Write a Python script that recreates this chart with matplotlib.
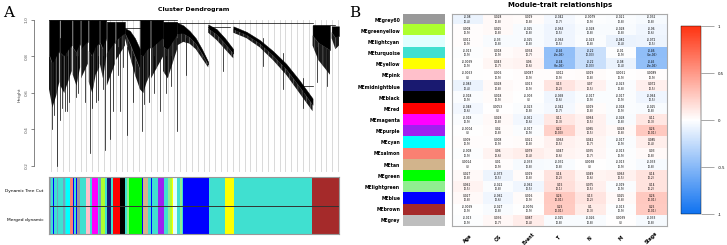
import numpy as np
import matplotlib.pyplot as plt
from matplotlib.colors import LinearSegmentedColormap, to_rgb

W, H = 727, 245
plt.rcParams['hatch.linewidth'] = 0.35

# ---- panel B data: module eigengene vs trait correlations ----
modules = ['grey60', 'greenyellow', 'lightcyan', 'turquoise', 'yellow', 'pink',
           'midnightblue', 'black', 'red', 'magenta', 'purple', 'cyan', 'salmon',
           'tan', 'green', 'lightgreen', 'blue', 'brown', 'grey']
module_hex = {'grey60': '#999999', 'greenyellow': '#ADFF2F', 'lightcyan': '#E0FFFF',
              'turquoise': '#40E0D0', 'yellow': '#FFFF00', 'pink': '#FFC0CB',
              'midnightblue': '#191970', 'black': '#000000', 'red': '#FF0000',
              'magenta': '#FF00FF', 'purple': '#A020F0', 'cyan': '#00FFFF',
              'salmon': '#FA8072', 'tan': '#D2B48C', 'green': '#00FF00',
              'lightgreen': '#90EE90', 'blue': '#0000FF', 'brown': '#A52A2A',
              'grey': '#BEBEBE', 'grey_l': '#6FA8C0'}
traits = ['Age', 'OS', 'Event', 'T', 'N', 'M', 'Stage']
cor = np.array([
    [-0.08, 0.028, 0.019, -0.042, -0.0079, -0.021, -0.032],
    [0.008, 0.025, -0.025, -0.063, -0.028, -0.028, -0.06],
    [0.011, -0.03, -0.025, -0.063, -0.023, -0.081, -0.072],
    [-0.013, 0.018, 0.034, -0.45, -0.22, -0.01, -0.46],
    [-0.0069, 0.043, 0.06, -0.44, -0.22, -0.08, -0.45],
    [-0.0063, 0.006, 0.0087, 0.012, 0.019, 0.0061, 0.0089],
    [-0.083, 0.028, 0.013, 0.13, 0.07, -0.023, 0.072],
    [-0.018, 0.018, -0.003, -0.058, -0.017, -0.017, -0.064],
    [-0.048, 0.0053, -0.023, -0.042, 0.019, -0.018, -0.025],
    [-0.018, 0.028, -0.051, 0.11, 0.064, -0.028, 0.11],
    [-0.0004, 0.02, -0.017, 0.22, 0.065, 0.028, 0.26],
    [0.009, 0.008, 0.021, 0.063, 0.042, -0.017, 0.085],
    [-0.008, 0.06, 0.079, 0.047, 0.035, -0.013, 0.03],
    [0.0014, 0.01, -0.033, -0.031, 0.0038, -0.013, -0.033],
    [0.027, -0.073, 0.019, 0.14, 0.049, 0.063, 0.14],
    [0.062, -0.022, -0.062, 0.15, 0.075, -0.019, 0.14],
    [0.027, -0.061, 0.016, 0.26, 0.13, 0.025, 0.26],
    [-0.0069, -0.027, -0.0076, 0.25, 0.1, -0.013, 0.25],
    [-0.013, 0.036, 0.087, -0.025, -0.026, 0.0039, -0.033],
])
pval = [
    ['0.4', '0.8', '0.8', '0.7', '0.9', '0.8', '0.8'],
    ['0.9', '0.8', '0.8', '0.5', '0.8', '0.8', '0.6'],
    ['0.9', '0.8', '0.8', '0.5', '0.8', '0.4', '0.5'],
    ['0.9', '0.9', '0.7', '2e-05', '0.03', '0.9', '1e-05'],
    ['0.9', '0.7', '0.6', '3e-05', '0.03', '0.4', '2e-05'],
    ['1', '0.9', '0.9', '0.9', '0.8', '0.9', '0.9'],
    ['0.4', '0.8', '0.9', '0.2', '0.5', '0.8', '0.5'],
    ['0.9', '0.9', '1', '0.6', '0.9', '0.9', '0.5'],
    ['0.6', '1', '0.8', '0.7', '0.8', '0.9', '0.8'],
    ['0.9', '0.8', '0.6', '0.3', '0.5', '0.8', '0.3'],
    ['1', '0.8', '0.9', '0.03', '0.5', '0.8', '0.01'],
    ['0.9', '0.9', '0.8', '0.5', '0.7', '0.9', '0.4'],
    ['0.9', '0.6', '0.4', '0.6', '0.7', '0.9', '0.8'],
    ['1', '0.9', '0.8', '0.8', '1', '0.9', '0.8'],
    ['0.8', '0.5', '0.8', '0.2', '0.6', '0.5', '0.2'],
    ['0.5', '0.8', '0.5', '0.1', '0.5', '0.9', '0.2'],
    ['0.8', '0.6', '0.9', '0.01', '0.2', '0.8', '0.01'],
    ['0.9', '0.8', '0.9', '0.01', '0.3', '0.9', '0.01'],
    ['0.9', '0.7', '0.4', '0.8', '0.8', '1', '0.8'],
]

# ---- panel A data: dendrogram (gene order units 0..867) ----
clu_x0 = [0, 34, 71, 96, 119, 152, 173, 200, 227, 272, 305, 341, 383, 476, 551, 788, 845]
clu_x1 = [31, 68, 93, 116, 150, 171, 197, 227, 272, 302, 341, 383, 476, 551, 788, 840, 867]
clu_upper = [[1.0] * 4, [1.0] * 4, [1.0] * 3, [1.0] * 3, [1.0] * 4, [1.0] * 3,
             [0.99] * 3, [0.99] * 3,
             [0.955, 0.94, 0.9, 0.84], [1.0] * 4, [1.0] * 4, [0.99] * 4,
             [0.985, 0.97, 0.94, 0.9, 0.84, 0.77],
             [0.975, 0.95, 0.9, 0.84],
             [0.965, 0.935, 0.89, 0.83, 0.76, 0.67, 0.57],
             [0.97] * 4, [0.965] * 3]
clu_lower = [[0.62, 0.52, 0.58, 0.66],
             [0.64, 0.6, 0.66, 0.72],
             [0.7, 0.64, 0.74],
             [0.68, 0.72, 0.76],
             [0.66, 0.6, 0.7, 0.74],
             [0.76, 0.68, 0.8],
             [0.64, 0.7, 0.76],
             [0.78, 0.82, 0.86],
             [0.9, 0.8, 0.7, 0.62],
             [0.62, 0.6, 0.66, 0.7],
             [0.68, 0.72, 0.76, 0.8],
             [0.72, 0.68, 0.76, 0.84],
             [0.86, 0.88, 0.87, 0.84, 0.79, 0.74],
             [0.93, 0.89, 0.84, 0.79],
             [0.93, 0.9, 0.85, 0.78, 0.7, 0.6, 0.5],
             [0.86, 0.78, 0.74, 0.7],
             [0.9, 0.84, 0.86]]
spike_x = [8, 23, 32, 47, 60, 107, 122, 140, 167, 182, 190, 212, 233, 250,
           278, 300, 332, 383, 410, 520, 640, 700, 760, 800, 830,
           15, 40, 55, 80, 88, 130, 145, 160, 205, 220, 285, 315, 350, 365]
spike_top = [0.9, 0.9, 0.9, 0.9, 0.9, 0.9, 0.9, 0.9, 0.9, 0.9, 0.9, 0.9, 0.85, 0.8,
             0.9, 0.9, 0.9, 0.9, 0.9, 0.85, 0.9, 0.82, 0.68, 0.85, 0.84,
             0.8, 0.8, 0.8, 0.8, 0.8, 0.8, 0.8, 0.8, 0.85, 0.85, 0.8, 0.8, 0.8, 0.8]
spike_bot = [0.4, 0.2, 0.45, 0.5, 0.55, 0.55, 0.27, 0.55, 0.29, 0.35, 0.5, 0.5,
             0.37, 0.55, 0.39, 0.55, 0.5, 0.39, 0.7, 0.72, 0.75, 0.62, 0.52, 0.66, 0.64,
             0.48, 0.52, 0.5, 0.58, 0.6, 0.52, 0.56, 0.62, 0.7, 0.74, 0.54, 0.6, 0.6, 0.64]
merge_x0 = [0, 383, 788, 227, 476, 760]
merge_x1 = [383, 788, 856, 272, 540, 788]
merge_h = [1.0, 0.983, 0.97, 0.955, 0.96, 0.64]

# module colour strip (gene order units)
strip_edges = [0, 4, 7, 12, 15, 24, 27, 42, 47, 52, 62, 72, 76, 80, 84, 92, 110, 124,
               129, 145, 150, 155, 167, 172, 185, 192, 212, 227, 232, 239, 277, 282,
               297, 304, 309, 327, 344, 357, 362, 367, 372, 382, 392, 397, 402, 477,
               527, 552, 787, 867]
strip_cols = ['turquoise', 'grey_l', 'turquoise', 'blue', 'turquoise', 'grey_l',
              'turquoise', 'grey_l', 'turquoise', 'cyan', 'salmon', 'blue', 'turquoise',
              'blue', 'grey60', 'turquoise', 'pink', 'turquoise', 'magenta',
              'turquoise', 'grey_l', 'greenyellow', 'turquoise', 'midnightblue',
              'turquoise', 'red', 'black', 'turquoise', 'lightgreen', 'green', 'blue',
              'tan', 'turquoise', 'blue', 'turquoise', 'purple', 'turquoise',
              'lightgreen', 'greenyellow', 'yellow', 'lightcyan', 'turquoise',
              'lightgreen', 'turquoise', 'blue', 'turquoise', 'yellow', 'turquoise',
              'brown']


def rect(x0, y0, x1, y1):
    return [x0 / W, 1 - y1 / H, (x1 - x0) / W, (y1 - y0) / H]


fig = plt.figure(figsize=(7.27, 2.45), dpi=100)

# ---------------- Panel A ----------------
axd = fig.add_axes(rect(49, 17, 339, 172))
for i in range(50):
    axd.plot([7 + 17.5 * i] * 2, [0.1, 1.0], color='#cfcfcf', lw=0.55, zorder=0)
for x0, x1, up, lo in zip(clu_x0, clu_x1, clu_upper, clu_lower):
    xs = np.linspace(x0, x1, len(lo))
    mid = [(u + l) / 2 for u, l in zip(up, lo)]
    axd.fill_between(xs, mid, up, color='black', lw=0.3, zorder=2)
    axd.fill_between(xs, lo, mid, facecolor='#1a1a1a', edgecolor='#8a8a8a',
                     hatch='||||', lw=0, zorder=2)
for x, t, b in zip(spike_x, spike_top, spike_bot):
    axd.plot([x, x], [b, t], color='black', lw=0.5, zorder=2)
for x0, x1, h in zip(merge_x0, merge_x1, merge_h):
    axd.plot([x0, x1], [h, h], color='black', lw=0.5, zorder=2)
axd.set_xlim(0, 867)
axd.set_ylim(0.167, 1.016)
for s in ['top', 'right', 'bottom']:
    axd.spines[s].set_visible(False)
axd.spines['left'].set_position(('outward', 11))
axd.spines['left'].set_bounds(0.2, 1.0)
axd.spines['left'].set_linewidth(0.5)
axd.spines['left'].set_color('#555555')
axd.set_xticks([])
axd.set_yticks([0.2, 0.4, 0.6, 0.8, 1.0])
axd.tick_params(axis='y', labelsize=3.2, length=2, width=0.5, pad=1.5,
                colors='#555555', labelrotation=90)
for lab in axd.get_yticklabels():
    lab.set_va('center')
axd.set_ylabel('Height', fontsize=3.2, labelpad=2, color='#444444')
axd.set_title('Cluster Dendrogram', fontsize=4.5, fontweight='bold', pad=4)

axs = fig.add_axes(rect(49, 177, 339, 234))
widths = np.diff(strip_edges)
cols = [module_hex[c] for c in strip_cols]
axs.barh([1.5] * len(cols), widths, left=strip_edges[:-1], height=1, color=cols, lw=0)
axs.barh([0.5] * len(cols), widths, left=strip_edges[:-1], height=1, color=cols, lw=0)
axs.axhline(1, color='#333333', lw=0.7)
axs.set_xlim(0, 867)
axs.set_ylim(0, 2)
axs.set_xticks([])
axs.set_yticks([])
for s in axs.spines.values():
    s.set_color('#999999')
    s.set_linewidth(0.8)
axs.text(-0.02, 0.75, 'Dynamic Tree Cut', transform=axs.transAxes, ha='right',
         va='center', fontsize=3.2)
axs.text(-0.02, 0.25, 'Merged dynamic', transform=axs.transAxes, ha='right',
         va='center', fontsize=3.2)

fig.text(9 / W, 1 - 13 / H, 'A', fontsize=11, family='DejaVu Serif', ha='center', va='center')
fig.text(355 / W, 1 - 13 / H, 'B', fontsize=11, family='DejaVu Serif', ha='center', va='center')

# ---------------- Panel B ----------------
cmap = LinearSegmentedColormap.from_list('bwr_w', ['#0f72f0', '#ffffff', '#ff3311'])

axm = fig.add_axes(rect(403, 14, 445, 226))
mod_rgb = np.array([[to_rgb(module_hex[m])] for m in modules])
axm.imshow(mod_rgb, aspect='auto')
axm.set_xticks([])
axm.set_yticks(range(len(modules)), ['ME' + m for m in modules])
axm.tick_params(axis='y', length=0, labelsize=3.3, pad=2)
for lab in axm.get_yticklabels():
    lab.set_fontweight('bold')
for s in axm.spines.values():
    s.set_visible(False)

axh = fig.add_axes(rect(452, 14, 667, 226))
im = axh.imshow(cor, cmap=cmap, vmin=-1, vmax=1, aspect='auto')
for i in range(cor.shape[0]):
    for j in range(cor.shape[1]):
        axh.text(j, i, '%s\n(%s)' % (('%.2g' % cor[i, j]), pval[i][j]),
                 ha='center', va='center', fontsize=2.1, linespacing=1.1)
axh.set_xticks([])
axh.set_yticks([])
for s in axh.spines.values():
    s.set_color('#aaaaaa')
    s.set_linewidth(0.8)
for j, t in enumerate(traits):
    axh.text(j, 19.6, t, rotation=45, ha='center', va='center', fontsize=3.3,
             fontweight='bold', clip_on=False)
fig.text(560 / W, 1 - 5 / H, 'Module-trait relationships', fontsize=5,
         fontweight='bold', ha='center', va='center')

cax = fig.add_axes(rect(681, 26, 701, 214))
cb = fig.colorbar(im, cax=cax, ticks=[-1, -0.5, 0, 0.5, 1])
cb.outline.set_linewidth(0.3)
cb.ax.tick_params(length=9, width=0.6, color='#999999', labelsize=2.8, pad=3)
cb.ax.set_yticklabels(['-1', '-0.5', '0', '0.5', '1'])

fig.savefig('out.png', dpi=100)
